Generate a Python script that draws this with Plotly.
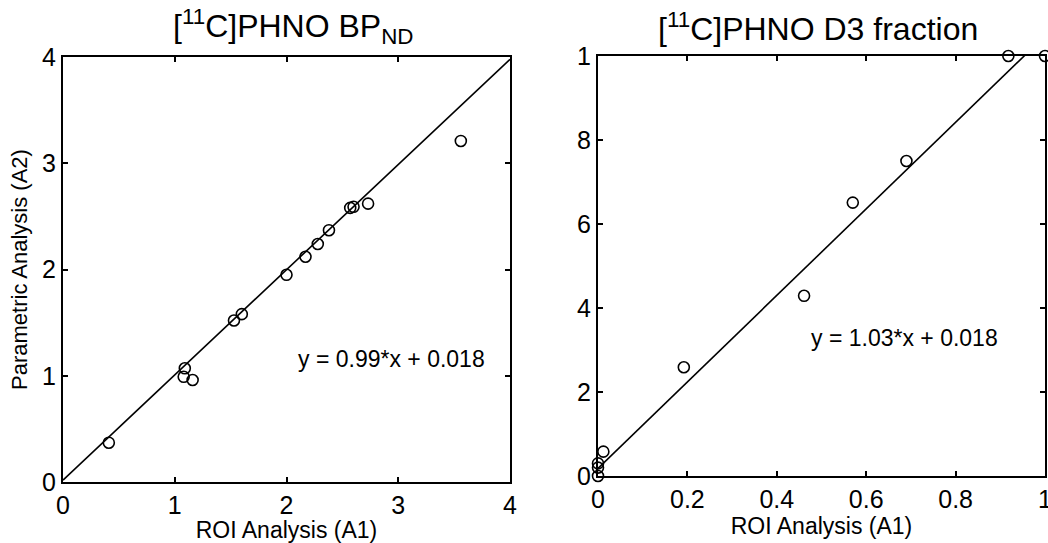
import plotly.graph_objects as go

# Left panel: BP_ND
bp_roi = [0.41, 1.09, 1.08, 1.16, 1.53, 1.60, 2.00, 2.17, 2.28, 2.38, 2.57, 2.60, 2.73, 3.56]
bp_par = [0.37, 1.07, 0.99, 0.96, 1.52, 1.58, 1.95, 2.12, 2.24, 2.37, 2.58, 2.59, 2.62, 3.21]
bp_slope, bp_icpt = 0.99, 0.018
bp_fit_x = [0, 4]

# Right panel: D3 fraction
d3_roi = [0.0, 0.0, 0.0, 0.012, 0.192, 0.461, 0.570, 0.690, 0.918, 1.0]
d3_par = [0.0, 0.02, 0.03, 0.058, 0.259, 0.429, 0.651, 0.75, 1.0, 1.0]
d3_slope, d3_icpt = 1.03, 0.018
d3_fit_x = [0, 1]

left_ticks = [0, 1, 2, 3, 4]
left_ticktext = ["0", "1", "2", "3", "4"]
right_xticks = [0, 0.2, 0.4, 0.6, 0.8, 1]
right_xticktext = ["0", "0.2", "0.4", "0.6", "0.8", "1"]
right_yticks = [0, 0.2, 0.4, 0.6, 0.8, 1]
right_yticktext = ["0", "2", "4", "6", "8", "1"]

FONT = "Arial, Liberation Sans, sans-serif"
W, H = 1048, 543

fig = go.Figure()

fig.add_trace(go.Scatter(x=bp_fit_x, y=[bp_slope * v + bp_icpt for v in bp_fit_x],
                         mode="lines", line=dict(color="black", width=1.6),
                         xaxis="x", yaxis="y", showlegend=False))
fig.add_trace(go.Scatter(x=bp_roi, y=bp_par, mode="markers",
                         marker=dict(symbol="circle-open", size=11, color="black",
                                     line=dict(width=1.6, color="black")),
                         cliponaxis=False, xaxis="x", yaxis="y", showlegend=False))
fig.add_trace(go.Scatter(x=d3_fit_x, y=[d3_slope * v + d3_icpt for v in d3_fit_x],
                         mode="lines", line=dict(color="black", width=1.6),
                         xaxis="x2", yaxis="y2", showlegend=False))
fig.add_trace(go.Scatter(x=d3_roi, y=d3_par, mode="markers",
                         marker=dict(symbol="circle-open", size=11, color="black",
                                     line=dict(width=1.6, color="black")),
                         cliponaxis=False, xaxis="x2", yaxis="y2", showlegend=False))

axis_common = dict(showgrid=False, zeroline=False, showline=True, linecolor="black",
                   linewidth=2, mirror="ticks", ticks="inside", ticklen=5,
                   tickwidth=1.5, tickcolor="black", automargin=False,
                   ticklabeloverflow="allow",
                   tickfont=dict(family=FONT, size=25, color="black"))

lx0, lx1 = 63 / W, 510 / W
rx0, rx1 = 598 / W, 1045 / W
ly0, ly1 = 1 - 482 / H, 1 - 57 / H
ry0, ry1 = 1 - 476 / H, 1 - 56 / H

fig.update_layout(
    width=W, height=H,
    margin=dict(l=0, r=0, t=0, b=0, autoexpand=False),
    paper_bgcolor="white", plot_bgcolor="white",
    xaxis=dict(domain=[lx0, lx1], range=[0, 4], tickvals=left_ticks, ticktext=left_ticktext,
               title=dict(text="ROI Analysis (A1)", font=dict(family=FONT, size=23, color="black"),
                          standoff=0),
               anchor="y", **axis_common),
    yaxis=dict(domain=[ly0, ly1], range=[0, 4], tickvals=left_ticks, ticktext=left_ticktext,
               title=dict(text="Parametric Analysis (A2)", font=dict(family=FONT, size=22, color="black"),
                          standoff=8),
               anchor="x", **axis_common),
    xaxis2=dict(domain=[rx0, rx1], range=[0, 1], tickvals=right_xticks, ticktext=right_xticktext,
                title=dict(text="ROI Analysis (A1)", font=dict(family=FONT, size=23, color="black"),
                           standoff=0),
                anchor="y2", **axis_common),
    yaxis2=dict(domain=[ry0, ry1], range=[0, 1], tickvals=right_yticks, ticktext=right_yticktext,
                anchor="x2", **axis_common),
    annotations=[
        dict(text="[<sup>11</sup>C]PHNO BP<sub>ND</sub>", xref="paper", yref="paper",
             x=(lx0 + lx1) / 2 + 0.007, y=1 - 27 / H, xanchor="center", yanchor="middle",
             showarrow=False, font=dict(family=FONT, size=32, color="black")),
        dict(text="[<sup>11</sup>C]PHNO D3 fraction", xref="paper", yref="paper",
             x=(rx0 + rx1) / 2 - 0.003, y=1 - 27 / H, xanchor="center", yanchor="middle",
             showarrow=False, font=dict(family=FONT, size=32, color="black")),
        dict(text="y = 0.99*x + 0.018", xref="x", yref="y", x=2.94, y=1.16,
             showarrow=False, font=dict(family=FONT, size=23, color="black")),
        dict(text="y = 1.03*x + 0.018", xref="x2", yref="y2", x=0.685, y=0.329,
             showarrow=False, font=dict(family=FONT, size=23, color="black")),
    ],
)

fig.write_html("out.html")
